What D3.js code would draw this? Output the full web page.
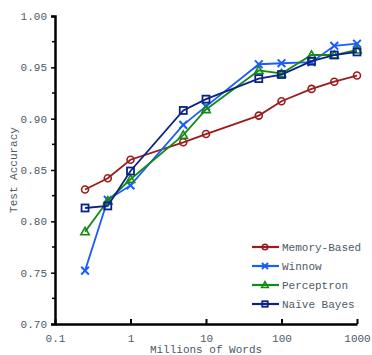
<!DOCTYPE html>
<html>
<head>
<meta charset="utf-8">
<script src="https://cdn.jsdelivr.net/npm/d3@7"></script>
<style>
  body { margin: 0; background: #fff; }
  svg text { font-family: "Courier New", "Liberation Mono", "DejaVu Sans Mono", monospace !important; }
</style>
</head>
<body>
<svg id="chart"></svg>
<script>
const words = [0.25, 0.5, 1, 5, 10, 50, 100, 250, 500, 1000]
const memoryBased = [0.831, 0.842, 0.860, 0.877, 0.885, 0.903, 0.917, 0.929, 0.936, 0.942]
const winnow = [0.752, 0.821, 0.835, 0.894, 0.912, 0.953, 0.954, 0.955, 0.971, 0.973]
const perceptron = [0.790, 0.820, 0.841, 0.884, 0.909, 0.947, 0.944, 0.962, 0.962, 0.967]
const naiveBayes = [0.813, 0.815, 0.849, 0.908, 0.919, 0.939, 0.943, 0.956, 0.962, 0.965]
const xTicks = [0.1, 1, 10, 100, 1000]
const yTicks = [0.70, 0.75, 0.80, 0.85, 0.90, 0.95, 1.00]

const series = [
  { name: "Memory-Based", values: memoryBased, color: "#9b1c1c", marker: "circle" },
  { name: "Winnow", values: winnow, color: "#1a5cff", marker: "x" },
  { name: "Perceptron", values: perceptron, color: "#168a16", marker: "triangle" },
  { name: "Naïve Bayes", values: naiveBayes, color: "#0c2384", marker: "square" }
]

const width = 372, height = 355
const font = "'Courier New', 'Liberation Mono', monospace"
const svg = d3.select("#chart").attr("width", width).attr("height", height)
  .attr("font-family", font)

const x = d3.scaleLog().domain([0.1, 1000]).range([55, 357])
const y = d3.scaleLinear().domain([0.7, 1.0]).range([324, 16])
const tickColor = "#4d5a66"

// axes
const xAxis = svg.append("g").attr("transform", `translate(0,${y(0.7)})`)
  .call(d3.axisBottom(x).tickValues(xTicks).tickFormat(d3.format("")).tickSize(0).tickPadding(10))
xAxis.attr("font-family", font)
xAxis.select(".domain").attr("stroke", "#000").attr("stroke-width", 2.5)
xAxis.selectAll(".tick line").remove()
xAxis.selectAll(".tick").append("line").attr("y1", 0).attr("y2", -5).attr("stroke", "#000").attr("stroke-width", 2)
xAxis.selectAll("text").attr("fill", tickColor).attr("font-size", 11)

const yAxis = svg.append("g").attr("transform", `translate(${x(0.1)},0)`)
  .call(d3.axisLeft(y).tickValues(yTicks).tickFormat(d3.format(".2f")).tickSize(4).tickPadding(4))
yAxis.attr("font-family", font)
yAxis.select(".domain").attr("stroke", "#000").attr("stroke-width", 2.5)
yAxis.selectAll(".tick line").attr("stroke", "#000").attr("stroke-width", 1.5)
yAxis.selectAll("text").attr("fill", tickColor).attr("font-size", 11)
yAxis.selectAll(".minor").data(d3.range(0.725, 1.0, 0.05)).join("line")
  .attr("x1", -3).attr("x2", 0).attr("y1", d => y(d)).attr("y2", d => y(d))
  .attr("stroke", "#000").attr("stroke-width", 1.5)

svg.append("text").attr("x", 206).attr("y", 353).attr("text-anchor", "middle")
  .attr("fill", tickColor).attr("font-size", 11).text("Millions of Words")
svg.append("text").attr("transform", `translate(17,${y(0.85)}) rotate(-90)`).attr("text-anchor", "middle")
  .attr("fill", tickColor).attr("font-size", 11).text("Test Accuracy")

function drawMarker(g, type, color, s) {
  if (type === "circle") {
    g.append("circle").attr("r", s * 0.5).attr("fill", "none").attr("stroke", color).attr("stroke-width", 1.6)
  } else if (type === "square") {
    g.append("rect").attr("x", -s / 2).attr("y", -s / 2).attr("width", s).attr("height", s)
      .attr("fill", "none").attr("stroke", color).attr("stroke-width", 1.8)
  } else if (type === "triangle") {
    const h = s * 0.6
    g.append("path").attr("d", `M0,${-h}L${h},${h * 0.75}L${-h},${h * 0.75}Z`)
      .attr("fill", "none").attr("stroke", color).attr("stroke-width", 1.6)
  } else {
    const h = s * 0.55
    g.append("path").attr("d", `M${-h},${-h}L${h},${h}M${-h},${h}L${h},${-h}`)
      .attr("stroke", color).attr("stroke-width", 2)
  }
}

const line = d3.line().x(d => x(d[0])).y(d => y(d[1]))

series.forEach(s => {
  const pts = words.map((w, i) => [w, s.values[i]])
  svg.append("path").datum(pts).attr("d", line)
    .attr("fill", "none").attr("stroke", s.color).attr("stroke-width", 1.8)
  pts.forEach(p => {
    const g = svg.append("g").attr("transform", `translate(${x(p[0])},${y(p[1])})`)
    drawMarker(g, s.marker, s.color, 7)
  })
})

// legend
const legend = svg.append("g")
series.forEach((s, i) => {
  const ly = 247 + i * 19
  legend.append("line").attr("x1", 252).attr("x2", 279).attr("y1", ly).attr("y2", ly)
    .attr("stroke", s.color).attr("stroke-width", 2.2)
  const g = legend.append("g").attr("transform", `translate(265,${ly})`)
  drawMarker(g, s.marker, s.color, 5.5)
  legend.append("text").attr("x", 282).attr("y", ly + 3.5).attr("fill", tickColor)
    .attr("font-size", 11).text(s.name)
})
</script>
</body>
</html>
